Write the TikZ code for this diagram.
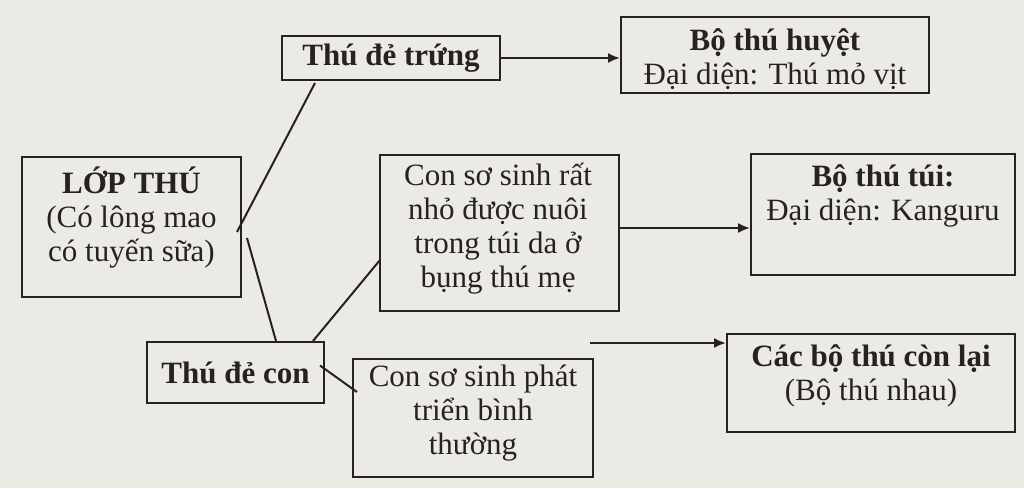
\documentclass[tikz,border=0pt]{standalone}
\usepackage{fontspec}
\setmainfont{Liberation Serif}
\usetikzlibrary{calc,arrows.meta}
\definecolor{paper}{RGB}{236,234,228}
\definecolor{ink}{RGB}{38,34,34}
\begin{document}
\begin{tikzpicture}[x=1pt,y=-1pt,
  box/.style={draw=ink, line width=2pt, rectangle, inner sep=0pt, align=center, text=ink,
    font=\fontsize{31}{34}\selectfont},
  txt/.style={inner sep=0pt, align=center, text=ink, font=\fontsize{31}{34}\selectfont},
  conn/.style={draw=ink, line width=2pt},
  arr/.style={draw=ink, line width=2pt, -{Latex[length=12pt,width=10pt]}}]
\fill[paper] (0,0) rectangle (1024,488);
\useasboundingbox (0,0) rectangle (1024,488);
% boxes
\node[box, minimum width=218, minimum height=44] (trung) at (391,58) {\textbf{Thú đẻ trứng}};
\node[box, minimum width=308, minimum height=76] (huyet) at (775,55) {};
\node[txt] (huyettext) at (775,59) {\textbf{Bộ thú huyệt}\\Đại diện: Thú mỏ vịt};
\node[box, minimum width=219, minimum height=140] (lop) at (131.5,227) {};
\node[txt] (loptext) at (131.5,218) {\textbf{LỚP THÚ}\\(Có lông mao\\có tuyến sữa)};
\node[box, minimum width=177, minimum height=61] (decon) at (235.5,372.5) {\textbf{Thú đẻ con}};
\node[box, minimum width=239, minimum height=156] (ratnho) at (499.5,233) {};
\node[txt] (ratnhotext) at (498,229) {Con sơ sinh rất\\nhỏ được nuôi\\trong túi da ở\\bụng thú mẹ};
\node[box, minimum width=240, minimum height=118] (phat) at (473,418) {};
\node[txt] (phattext) at (473,413) {Con sơ sinh phát\\triển bình\\thường};
\node[box, minimum width=264, minimum height=121] (tui) at (883,214.5) {};
\node[txt] (tuitext) at (883,196) {\textbf{Bộ thú túi:}\\Đại diện: Kanguru};
\node[box, minimum width=288, minimum height=98] (cac) at (871,383) {};
\node[txt] (cactext) at (871,376) {\textbf{Các bộ thú còn lại}\\(Bộ thú nhau)};
% connectors
\draw[conn] ($(lop.east)+(-5,5)$) -- ($(trung.south)+(-76,2)$);
\draw[conn] ($(lop.east)+(5,11)$) -- ($(decon.north)+(40.5,0)$);
\draw[conn] ($(decon.north)+(77.5,0)$) -- ($(ratnho.west)+(1,27)$);
\draw[conn] ($(decon.east)+(-5,-7)$) -- ($(phat.west)+(5,-26)$);
% arrows
\draw[arr] (trung.east) -- (trung.east -| huyet.west);
\coordinate (s2) at ($(ratnho.east)+(0,-5)$);
\draw[arr] (s2) -- (s2 -| tui.west);
\coordinate (s3) at ($(phat.north east)+(-4,-15)$);
\draw[arr] (s3) -- (s3 -| cac.west);
\end{tikzpicture}
\end{document}
